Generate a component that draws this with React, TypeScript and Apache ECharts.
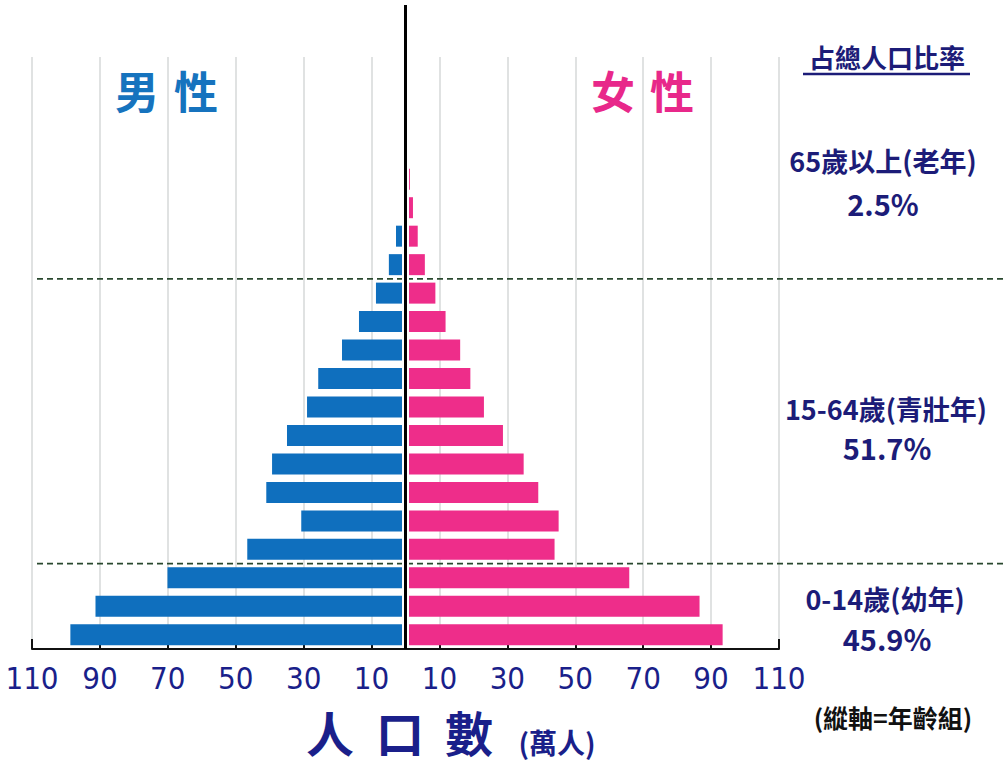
import React, { useEffect, useRef } from 'react';
import * as echarts from 'echarts';

const ageGroups = ['0-4', '5-9', '10-14', '15-19', '20-24', '25-29', '30-34', '35-39', '40-44', '45-49', '50-54', '55-59', '60-64', '65-69', '70-74', '75-79', '80+'];
const maleValues = [98.7, 91.3, 70.1, 46.6, 30.7, 41.0, 39.3, 34.9, 29.0, 25.7, 18.7, 13.7, 8.7, 4.9, 2.8, 1.0, 0.5];
const femaleValues = [93.4, 86.6, 65.9, 43.9, 45.1, 39.1, 34.8, 28.7, 23.1, 19.1, 16.1, 11.8, 8.8, 5.7, 3.6, 2.2, 1.3];
const axisMin = -110;
const axisMax = 110;
const axisStep = 20;
const bracketNames = ['65歲以上(老年)', '15-64歲(青壯年)', '0-14歲(幼年)'];
const bracketShares = ['2.5%', '51.7%', '45.9%'];
const bracketBoundaries = [['60-64', '65-69'], ['10-14', '15-19']];

const NAVY = '#1c1c78';
const AXIS_NAVY = '#1a1f8a';
const BLUE = '#0f6fbe';
const PINK = '#ee2d8a';
const CJK = '"Noto Sans CJK TC", "Noto Sans CJK SC", sans-serif';
const NARROW = '"Liberation Sans Narrow", "DejaVu Sans Condensed", "Liberation Sans", sans-serif';

export default function App() {
  const ref = useRef<HTMLDivElement>(null);
  useEffect(() => {
    if (!ref.current) return;
    const chart = echarts.init(ref.current, null, { renderer: 'svg' });
    const gridL = 32;
    const gridR = 227;
    const gridBottom = 120;
    chart.setOption({
      animation: false,
      backgroundColor: '#ffffff',
      grid: [
        { left: gridL, right: gridR, top: 57, bottom: gridBottom },
        { left: gridL, right: gridR, top: 165, bottom: gridBottom },
      ],
      xAxis: [
        {
          gridIndex: 0, type: 'value', min: axisMin, max: axisMax, interval: axisStep,
          axisLine: { show: false }, axisTick: { show: false }, axisLabel: { show: false },
          splitLine: { show: true, lineStyle: { color: '#d6d9d9', width: 1.5 } },
        },
        {
          gridIndex: 1, type: 'value', min: axisMin, max: axisMax, interval: axisStep,
          axisLine: { show: true, onZero: false, lineStyle: { color: '#111', width: 2 } },
          axisTick: { show: true, inside: true, length: 10, lineStyle: { color: '#111', width: 2 } },
          axisLabel: {
            show: true, margin: 13, color: AXIS_NAVY, fontSize: 31, fontFamily: NARROW,
            formatter: (v: number) => String(Math.abs(v)),
          },
          splitLine: { show: false },
        },
      ],
      yAxis: [
        { gridIndex: 0, type: 'value', show: false },
        {
          gridIndex: 1, type: 'category', data: ageGroups,
          axisLine: { show: false }, axisTick: { show: false }, axisLabel: { show: false },
          splitLine: { show: false },
        },
      ],
      series: [
        {
          name: '男性', type: 'bar', xAxisIndex: 1, yAxisIndex: 1,
          data: maleValues.map((v) => -v), barWidth: 21, barGap: '-100%',
          itemStyle: { color: BLUE },
        },
        {
          name: '女性', type: 'bar', xAxisIndex: 1, yAxisIndex: 1,
          data: femaleValues, barWidth: 21, barGap: '-100%',
          itemStyle: { color: PINK },
        },
      ],
    });

    const cx = chart.convertToPixel({ xAxisIndex: 1 }, 0) as number;
    const axisY = 769 - gridBottom;
    const dashYs = bracketBoundaries.map(([a, b]) => {
      const ya = chart.convertToPixel({ yAxisIndex: 1 }, a) as number;
      const yb = chart.convertToPixel({ yAxisIndex: 1 }, b) as number;
      return (ya + yb) / 2;
    });

    const graphics: any[] = [
      { type: 'rect', z: 50, shape: { x: cx - 3.5, y: 160, width: 7, height: axisY - 161 }, style: { fill: '#ffffff' } },
      { type: 'line', z: 60, shape: { x1: cx, y1: 5, x2: cx, y2: axisY }, style: { stroke: '#000', lineWidth: 3 } },
      ...dashYs.map((y) => ({
        type: 'line', z: 40, shape: { x1: 37, y1: y, x2: 1006, y2: y },
        style: { stroke: '#29482e', lineWidth: 1.8, lineDash: [6, 4] },
      })),
      { type: 'text', z: 60, x: 137, y: 90, style: { text: '男', fill: '#1673be', font: `bold 44px ${CJK}`, textAlign: 'center', textVerticalAlign: 'middle' } },
      { type: 'text', z: 60, x: 196, y: 90, style: { text: '性', fill: '#1673be', font: `bold 44px ${CJK}`, textAlign: 'center', textVerticalAlign: 'middle' } },
      { type: 'text', z: 60, x: 613, y: 90, style: { text: '女', fill: '#e8288a', font: `bold 44px ${CJK}`, textAlign: 'center', textVerticalAlign: 'middle' } },
      { type: 'text', z: 60, x: 672, y: 90, style: { text: '性', fill: '#e8288a', font: `bold 44px ${CJK}`, textAlign: 'center', textVerticalAlign: 'middle' } },
      { type: 'text', z: 60, x: 887, y: 56, style: { text: '占總人口比率', fill: NAVY, font: `bold 26px ${CJK}`, textAlign: 'center', textVerticalAlign: 'middle' } },
      { type: 'line', z: 60, shape: { x1: 803, y1: 74, x2: 970, y2: 74 }, style: { stroke: NAVY, lineWidth: 2.5 } },
      { type: 'text', z: 60, x: 883, y: 160, style: { text: bracketNames[0], fill: NAVY, font: `bold 27px ${CJK}`, textAlign: 'center', textVerticalAlign: 'middle' } },
      { type: 'text', z: 60, x: 883, y: 203, style: { text: bracketShares[0], fill: NAVY, font: `bold 29px ${CJK}`, textAlign: 'center', textVerticalAlign: 'middle' } },
      { type: 'text', z: 60, x: 886, y: 408, style: { text: bracketNames[1], fill: NAVY, font: `bold 27px ${CJK}`, textAlign: 'center', textVerticalAlign: 'middle' } },
      { type: 'text', z: 60, x: 887, y: 447, style: { text: bracketShares[1], fill: NAVY, font: `bold 29px ${CJK}`, textAlign: 'center', textVerticalAlign: 'middle' } },
      { type: 'text', z: 60, x: 885, y: 598, style: { text: bracketNames[2], fill: NAVY, font: `bold 27px ${CJK}`, textAlign: 'center', textVerticalAlign: 'middle' } },
      { type: 'text', z: 60, x: 887, y: 638, style: { text: bracketShares[2], fill: NAVY, font: `bold 29px ${CJK}`, textAlign: 'center', textVerticalAlign: 'middle' } },
      { type: 'text', z: 60, x: 330, y: 731, style: { text: '人', fill: AXIS_NAVY, font: `bold 48px ${CJK}`, textAlign: 'center', textVerticalAlign: 'middle' } },
      { type: 'text', z: 60, x: 400, y: 731, style: { text: '口', fill: AXIS_NAVY, font: `bold 48px ${CJK}`, textAlign: 'center', textVerticalAlign: 'middle' } },
      { type: 'text', z: 60, x: 469, y: 731, style: { text: '數', fill: AXIS_NAVY, font: `bold 48px ${CJK}`, textAlign: 'center', textVerticalAlign: 'middle' } },
      { type: 'text', z: 60, x: 557, y: 742, style: { text: '(萬人)', fill: AXIS_NAVY, font: `bold 28px ${CJK}`, textAlign: 'center', textVerticalAlign: 'middle' } },
      { type: 'text', z: 60, x: 893, y: 717, style: { text: '(縱軸=年齡組)', fill: '#111', font: `bold 25px ${CJK}`, textAlign: 'center', textVerticalAlign: 'middle' } },
    ];
    chart.setOption({ graphic: graphics });

    return () => chart.dispose();
  }, []);
  return <div ref={ref} style={{ position: 'fixed', left: 0, top: 0, width: 1006, height: 769 }} />;
}
